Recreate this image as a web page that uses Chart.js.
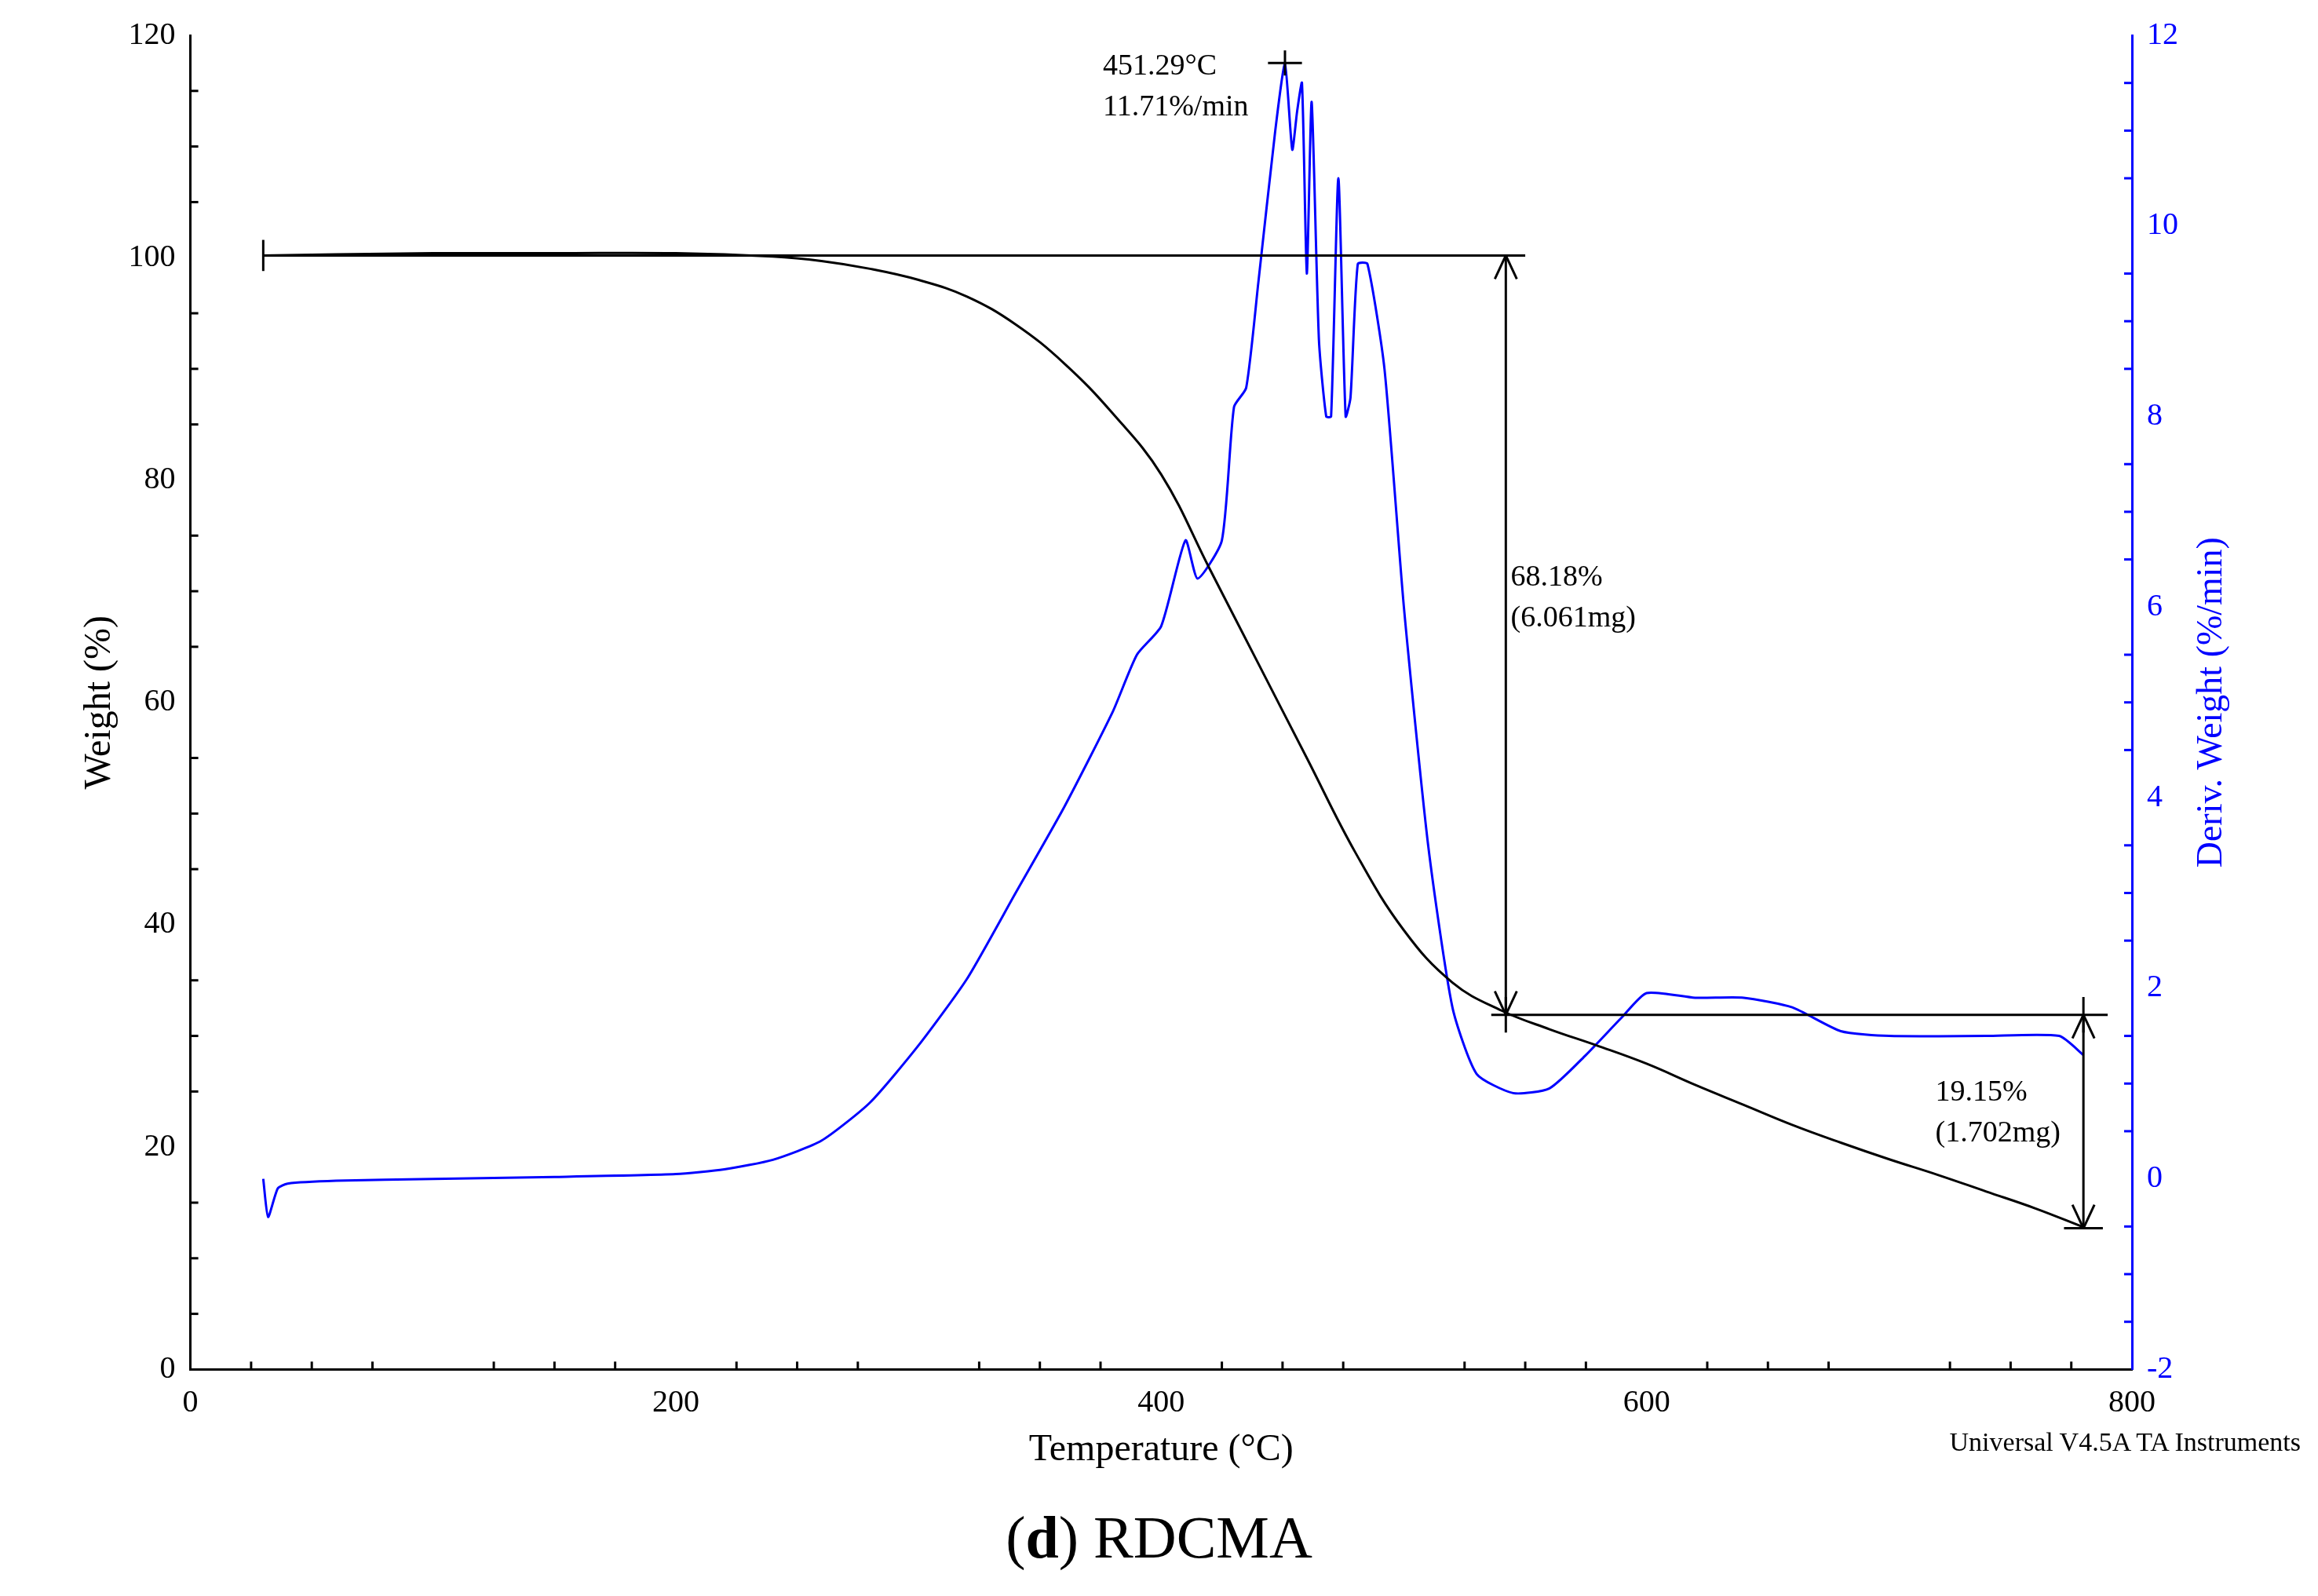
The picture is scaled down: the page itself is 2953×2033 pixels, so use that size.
<!DOCTYPE html>
<html>
<head>
<meta charset="utf-8">
<script src="https://cdn.jsdelivr.net/npm/chart.js@4"></script>
<style>
html,body{margin:0;padding:0;background:#fff;}
#wrap{position:relative;width:2953px;height:2033px;}
#cap{position:absolute;left:0;width:2953px;top:1915px;text-align:center;font:76px "Liberation Serif";}
#ver{position:absolute;right:22px;top:1818px;font:34px "Liberation Serif";}
</style>
</head>
<body>
<div id="wrap">
<canvas id="c" width="2953" height="1880"></canvas>
<div id="ver">Universal V4.5A TA Instruments</div>
<div id="cap">(<b>d</b>) RDCMA</div>
</div>
<script>
// Weight curve (%), left axis
const weightT = [30,60,100,150,200,240,260,280,300,320,340,360,380,400,420,440,460,480,500,520,540,560,580,600,620,640,660,680,700,720,740,760,780];
const weightV = [100.2,100.3,100.4,100.4,100.4,100.1,99.7,99,98,96.5,94,90.5,86,80.5,72,63.5,55,46.5,39.5,34.8,32.3,30.6,29.1,27.5,25.6,23.8,22,20.4,18.9,17.5,16,14.5,12.8];
// Derivative (%/min), right axis
const derivT = [30,32,36,40,60,100,150,200,220,240,260,280,300,320,340,360,380,390,400,410,415,425,430,435,440,447,451,454,456,458,460,462,465,468,470,473,476,478,481,485,492,500,510,520,530,545,560,575,590,600,620,640,660,680,700,740,770,780];
const derivV = [0,-0.4,-0.1,-0.05,-0.02,0,0.02,0.05,0.1,0.2,0.4,0.8,1.4,2.1,3.0,3.9,4.9,5.5,5.8,6.7,6.3,6.7,8.1,8.3,9.4,11.0,11.7,10.8,11.2,11.5,9.5,11.3,8.8,8.0,8.0,10.5,8.0,8.2,9.6,9.6,8.5,6.0,3.5,1.8,1.1,0.9,0.95,1.3,1.7,1.95,1.9,1.9,1.8,1.55,1.5,1.5,1.5,1.3];
const xTicks = [0,200,400,600,800];
const serif = '"Liberation Serif"';

const pts = (xs, ys) => xs.map((x, i) => ({x: x, y: ys[i]}));

const annot = {
  id: 'annot',
  afterDraw(chart) {
    const ctx = chart.ctx, x = chart.scales.x, y = chart.scales.y, y2 = chart.scales.y2;
    const X = v => x.getPixelForValue(v), Y = v => y.getPixelForValue(v);
    ctx.save();
    ctx.strokeStyle = '#000'; ctx.lineWidth = 3;
    const line = (a, b, c, d) => { ctx.beginPath(); ctx.moveTo(a, b); ctx.lineTo(c, d); ctx.stroke(); };
    const arrow = (xx, yy, dir) => { line(xx, yy, xx - 14, yy - dir * 30); line(xx, yy, xx + 14, yy - dir * 30); };
    // minor ticks
    for (let v = 0; v <= 800; v += 25) { if (v % 100) line(X(v), y.bottom, X(v), y.bottom - 10); }
    for (let v = 0; v <= 120; v += 5) { if (v % 20) line(x.left, Y(v), x.left + 10, Y(v)); }
    ctx.strokeStyle = '#0000ff';
    for (let v = -2; v <= 12; v += 0.5) { if (v % 2) line(x.right, y2.getPixelForValue(v), x.right - 10, y2.getPixelForValue(v)); }
    // right axis title, reading bottom to top
    ctx.save();
    ctx.fillStyle = '#0000ff'; ctx.font = '46px ' + serif; ctx.textAlign = 'center'; ctx.textBaseline = 'middle';
    ctx.translate(y2.right + 40, (y2.top + y2.bottom) / 2); ctx.rotate(-Math.PI / 2);
    ctx.fillText('Deriv. Weight (%/min)', 0, 0);
    ctx.restore();
    ctx.strokeStyle = '#000';
    // step 1
    line(X(30), Y(100.2), X(550), Y(100.2));
    line(X(30), Y(98.8), X(30), Y(101.6));
    line(X(542), Y(100.2), X(542), Y(31.9));
    arrow(X(542), Y(100.2), -1); arrow(X(542), Y(31.9), 1);
    line(X(542), Y(30.3), X(542), Y(33.5));
    // step 2
    line(X(536), Y(31.9), X(790), Y(31.9));
    line(X(780), Y(31.9), X(780), Y(12.7));
    arrow(X(780), Y(31.9), -1); arrow(X(780), Y(12.7), 1);
    line(X(772), Y(12.7), X(788), Y(12.7));
    line(X(780), Y(33.5), X(780), Y(30.3));
    // peak marker
    const py = y2.getPixelForValue(11.71);
    line(X(444), py, X(458), py); line(X(451), py - 16, X(451), py + 16);
    ctx.fillStyle = '#000'; ctx.font = '38px ' + serif; ctx.textBaseline = 'alphabetic';
    ctx.fillText('451.29°C', X(376), Y(116.5));
    ctx.fillText('11.71%/min', X(376), Y(112.8));
    ctx.fillText('68.18%', X(544), Y(70.5));
    ctx.fillText('(6.061mg)', X(544), Y(66.8));
    ctx.fillText('19.15%', X(719), Y(24.2));
    ctx.fillText('(1.702mg)', X(719), Y(20.5));
    ctx.restore();
  }
};

new Chart(document.getElementById('c'), {
  type: 'line',
  data: {
    datasets: [
      {data: pts(weightT, weightV), borderColor: '#000', borderWidth: 3, pointRadius: 0, tension: 0.4, yAxisID: 'y'},
      {data: pts(derivT, derivV), borderColor: '#0000ff', borderWidth: 3, pointRadius: 0, tension: 0.2, yAxisID: 'y2'}
    ]
  },
  options: {
    responsive: false, animation: false, devicePixelRatio: 1,
    layout: {padding: {top: 45, right: 175, left: 95, bottom: 0}},
    plugins: {legend: {display: false}, tooltip: {enabled: false}},
    scales: {
      x: {
        type: 'linear', min: 0, max: 800,
        afterBuildTicks: s => { s.ticks = xTicks.map(v => ({value: v})); },
        grid: {display: false, drawTicks: true, tickLength: 16, tickColor: '#000'},
        border: {color: '#000', width: 3},
        ticks: {color: '#000', font: {family: serif, size: 40}},
        title: {display: true, text: 'Temperature (°C)', color: '#000', font: {family: serif, size: 48}}
      },
      y: {
        min: 0, max: 120,
        grid: {display: false, tickLength: 16, tickColor: '#000'},
        border: {color: '#000', width: 3},
        ticks: {stepSize: 20, color: '#000', font: {family: serif, size: 40}},
        title: {display: true, text: 'Weight (%)', color: '#000', font: {family: serif, size: 48}}
      },
      y2: {
        position: 'right', min: -2, max: 12,
        grid: {display: false, tickLength: 16, tickColor: '#0000ff'},
        border: {color: '#0000ff', width: 3},
        ticks: {stepSize: 2, color: '#0000ff', font: {family: serif, size: 40}}
      }
    }
  },
  plugins: [annot]
});
</script>
</body>
</html>
